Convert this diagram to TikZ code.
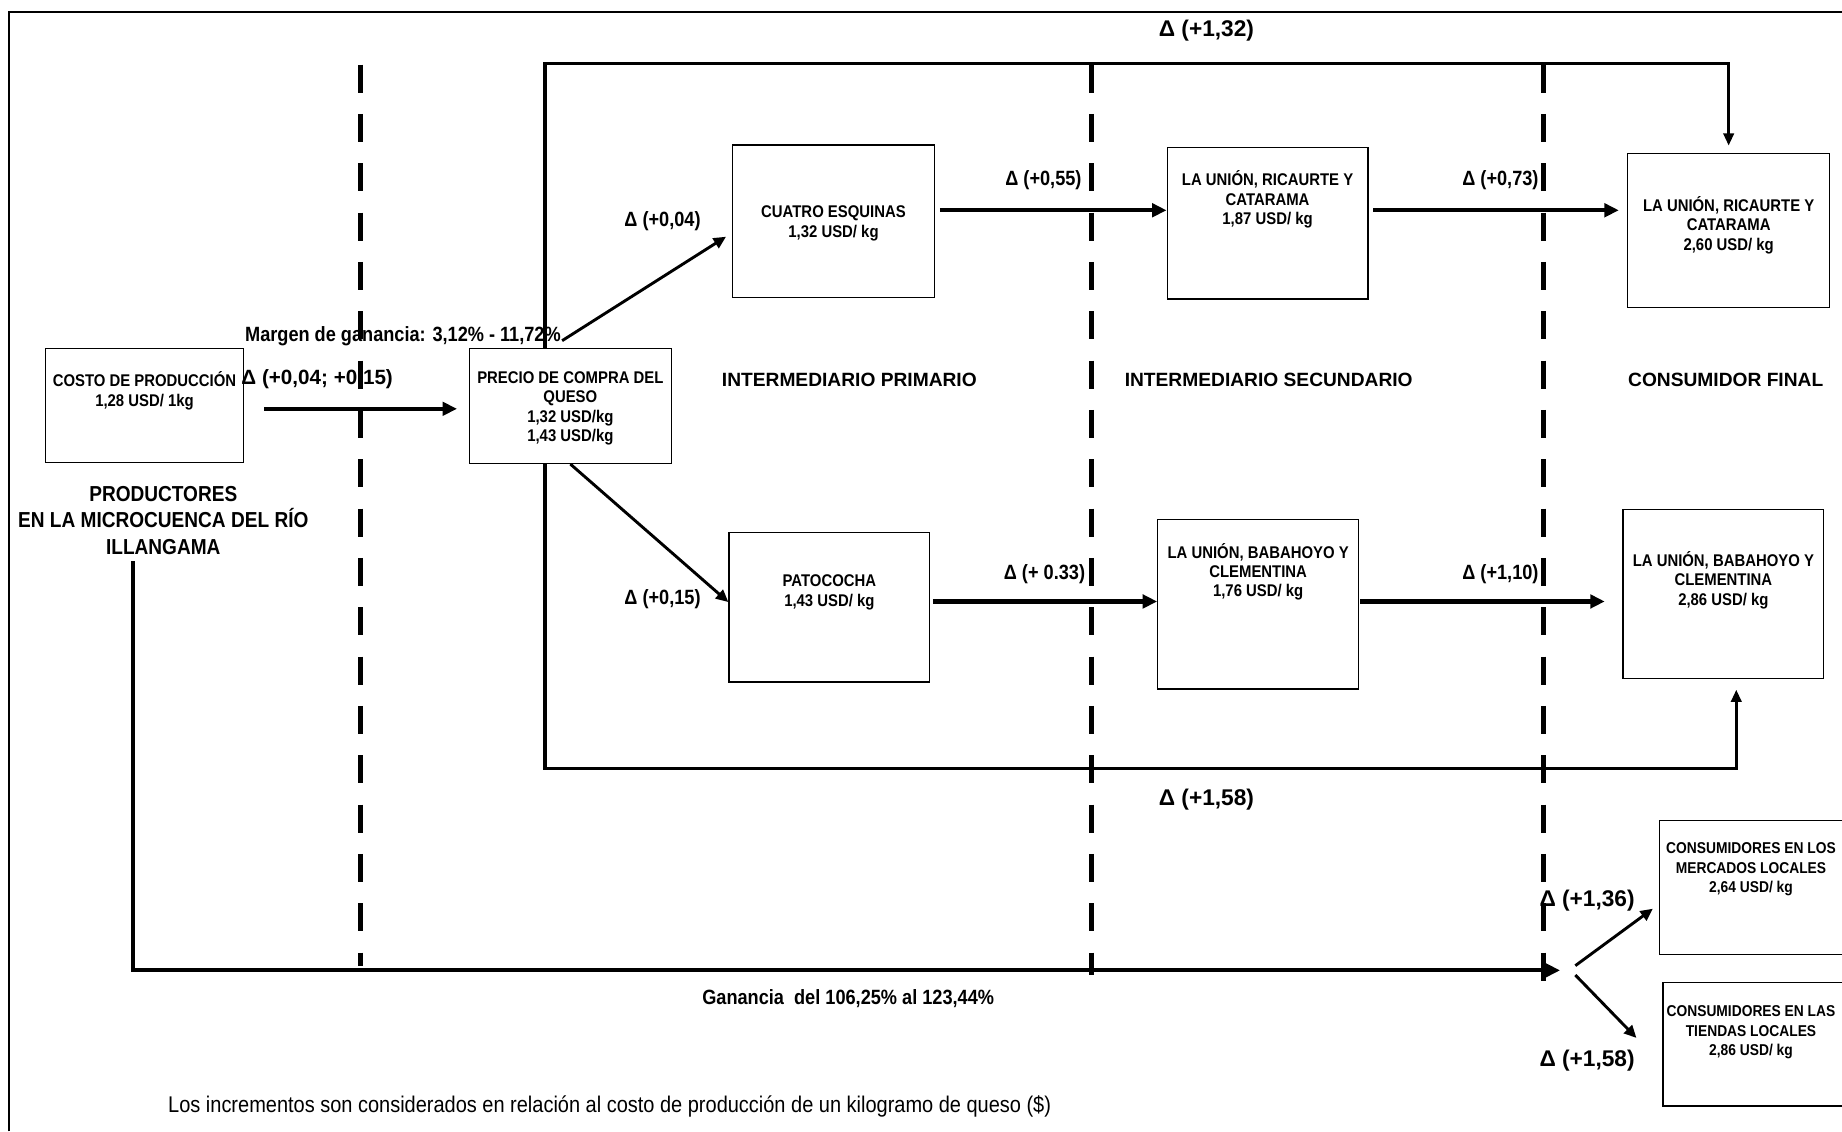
\documentclass[tikz,border=0pt]{standalone}
\usepackage{fontspec}
\setmainfont{Liberation Sans}
\newfontfamily\narrowfont{Liberation Sans}[FakeStretch=0.88]
\usetikzlibrary{arrows.meta, positioning, calc}

\begin{document}
\begin{tikzpicture}[x=0.02cm, y=-0.02cm,
        box/.style={draw, line width=0.6pt, anchor=north west, inner sep=0pt},
        boxtxt/.style={font=\narrowfont\bfseries\fontsize{8.2}{9.4}\selectfont, align=center, anchor=north, inner sep=0pt},
        prodtxt/.style={font=\narrowfont\bfseries\fontsize{10.5}{13}\selectfont, align=center, inner sep=0pt},
        delta/.style={font=\narrowfont\bfseries\fontsize{10}{12}\selectfont, inner sep=0pt},
        bigdelta/.style={font=\bfseries\fontsize{11}{13}\selectfont, inner sep=0pt},
        zone/.style={font=\bfseries\fontsize{9.3}{11}\selectfont, inner sep=0pt},
        note/.style={font=\narrowfont\fontsize{11}{13}\selectfont, inner sep=0pt},
        flow/.style={line width=2pt, -{Triangle[length=7pt,width=6.5pt]}},
        branch/.style={line width=1.4pt, -{Triangle[length=6pt,width=5.5pt]}},
        bracket/.style={line width=1.7pt, -{Triangle[length=6pt,width=5pt]}},
        divider/.style={line width=2.5pt, dash pattern=on 0.48cm off 0.36cm}]
        \useasboundingbox (0,0) rectangle (1568,963);
        \draw[line width=0.9pt] (8,963) -- (8,10) -- (1568,10);

        \coordinate (rowA) at (0,179);
        \coordinate (rowB) at (0,512);
        \coordinate (topL) at (464,54);
        \coordinate (botL) at (464,654);
        \coordinate (botR) at (1478,654);
        \coordinate (ganL) at (113,826);
        \coordinate (fork) at (1336,826);

        \node[box, minimum width=3.38cm, minimum height=1.94cm] (costo) at (38,296) {};
        \node[box, minimum width=3.44cm, minimum height=1.96cm] (precio) at (399,296) {};
        \node[box, minimum width=3.44cm, minimum height=2.6cm] (cuatro) at (623,123) {};
        \node[box, minimum width=3.42cm, minimum height=2.54cm] (pato) at (620,453) {};
        \node[box, minimum width=3.42cm, minimum height=2.58cm] (rmid) at (993,125) {};
        \node[box, minimum width=3.42cm, minimum height=2.88cm] (bmid) at (985,442) {};
        \node[box, minimum width=3.44cm, minimum height=2.62cm] (rfin) at (1385,130) {};
        \node[box, minimum width=3.42cm, minimum height=2.88cm] (bfin) at (1381,433) {};
        \node[box, minimum width=3.4cm, minimum height=2.28cm] (merc) at (1412,698) {};
        \node[box, minimum width=3.4cm, minimum height=2.1cm] (tiend) at (1415,836) {};

        \node[boxtxt] (costo-t) at ([yshift=-0.4cm]costo.north) {COSTO DE PRODUCCIÓN\\1,28 USD/ 1kg};
        \node[boxtxt] (precio-t) at ([yshift=-0.4cm]precio.north) {PRECIO DE COMPRA DEL\\QUESO\\1,32 USD/kg\\1,43 USD/kg};
        \node[boxtxt] (cuatro-t) at ([yshift=-1.04cm]cuatro.north) {CUATRO ESQUINAS\\1,32 USD/ kg};
        \node[boxtxt] (pato-t) at ([yshift=-0.72cm]pato.north) {PATOCOCHA\\1,43 USD/ kg};
        \node[boxtxt] (rmid-t) at ([yshift=-0.4cm]rmid.north) {LA UNIÓN, RICAURTE Y\\CATARAMA\\1,87 USD/ kg};
        \node[boxtxt] (bmid-t) at ([yshift=-0.4cm]bmid.north) {LA UNIÓN, BABAHOYO Y\\CLEMENTINA\\1,76 USD/ kg};
        \node[boxtxt] (rfin-t) at ([yshift=-0.74cm]rfin.north) {LA UNIÓN, RICAURTE Y\\CATARAMA\\2,60 USD/ kg};
        \node[boxtxt] (bfin-t) at ([yshift=-0.72cm]bfin.north) {LA UNIÓN, BABAHOYO Y\\CLEMENTINA\\2,86 USD/ kg};
        \node[boxtxt, font=\narrowfont\bfseries\fontsize{7.6}{9.4}\selectfont] (merc-t) at ([shift={(-0.14cm,-0.38cm)}]merc.north) {CONSUMIDORES EN LOS\\MERCADOS LOCALES\\2,64 USD/ kg};
        \node[boxtxt, font=\narrowfont\bfseries\fontsize{7.6}{9.4}\selectfont] (tiend-t) at ([shift={(-0.2cm,-0.4cm)}]tiend.north) {CONSUMIDORES EN LAS\\TIENDAS LOCALES\\2,86 USD/ kg};

        \node[prodtxt] (prod) at (139,443) {PRODUCTORES\\EN LA MICROCUENCA DEL RÍO\\ILLANGAMA};
        \node[zone] (zprim) at (723,323) {INTERMEDIARIO PRIMARIO};
        \node[zone] (zsec) at (1080,323) {INTERMEDIARIO SECUNDARIO};
        \node[zone] (zfin) at (1469,323) {CONSUMIDOR FINAL};

        \node[delta] (margen) at (343,286) {Margen de ganancia: 3,12\% - 11,72\%};
        \node[font=\bfseries\fontsize{10}{12}\selectfont, inner sep=0pt] (dprod) at (270,323) {Δ (+0,04; +0,15)};
        \node[delta] (d004) at (564,188) {Δ (+0,04)};
        \node[delta] (d015) at (564,510) {Δ (+0,15)};
        \node[delta, anchor=east] (d055) at (921,153) {Δ (+0,55)};
        \node[delta, anchor=east] (d073) at (1310,153) {Δ (+0,73)};
        \node[delta, anchor=east] (d033) at (924,489) {Δ (+ 0.33)};
        \node[delta, anchor=east] (d110) at (1310,489) {Δ (+1,10)};
        \node[bigdelta] (d132) at (1027,26) {Δ (+1,32)};
        \node[bigdelta] (d158) at (1027,681) {Δ (+1,58)};
        \node[bigdelta] (d136) at (1351,767) {Δ (+1,36)};
        \node[bigdelta] (d158b) at (1351,903) {Δ (+1,58)};
        \node[delta] (gan) at (722,850) {Ganancia~ del 106,25\% al 123,44\%};
        \node[note] (nota) at (519,942) {Los incrementos son considerados en relación al costo de producción de un kilogramo de queso (\$)};

        \draw[flow, shorten <=0.34cm, shorten >=0.2cm] (costo.east |- 0,348) -- (precio.west |- 0,348);
        \draw[flow, shorten <=0.08cm] (cuatro.east |- rowA) -- (rmid.west |- rowA);
        \draw[flow, shorten <=0.08cm, shorten >=0.14cm] (rmid.east |- rowA) -- (rfin.west |- rowA);
        \draw[flow, shorten <=0.04cm] (pato.east |- rowB) -- (bmid.west |- rowB);
        \draw[flow, shorten <=0.02cm, shorten >=0.3cm] (bmid.east |- rowB) -- (bfin.west |- rowB);
        \draw[branch] ([shift={(-0.14cm,0.12cm)}]precio.north) -- ([shift={(-0.1cm,-0.26cm)}]cuatro.west);
        \draw[branch] (precio.south) -- ([yshift=0.09cm]pato.west);

        \draw[bracket, shorten >=0.12cm] (precio.north -| topL) -- (topL) -- (topL -| rfin.north) -- (rfin.north);
        \draw[bracket, shorten >=0.18cm] (precio.south -| botL) -- (botL) -- (botR) -- (botR |- bfin.south);

        \draw[flow, shorten <=0.1cm, shorten >=0.16cm] (prod.south -| ganL) -- (ganL) -- (fork);
        \draw[branch] ([shift={(0.1cm,0.08cm)}]fork) -- ([shift={(-0.1cm,-0.36cm)}]merc.west);
        \draw[branch] ([shift={(0.1cm,-0.08cm)}]fork) -- ([shift={(-0.44cm,0.11cm)}]tiend.west);

        \foreach \x/\b in {307/822, 929/830, 1314/840}
                \draw[divider] (\x,55) -- (\x,\b);
\end{tikzpicture}
\end{document}
